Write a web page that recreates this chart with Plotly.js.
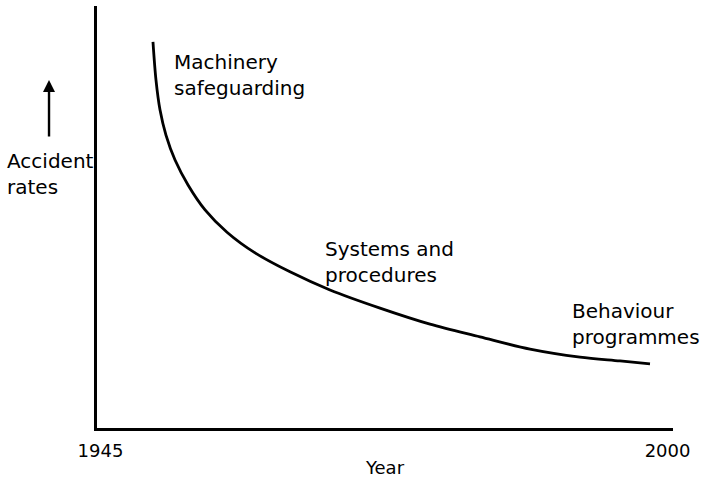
<!DOCTYPE html>
<html><head><meta charset="UTF-8"><title>Accident rates over time</title>
<script src="https://cdn.plot.ly/plotly-3.0.1.min.js"></script>
<style>
  body, html { margin: 0; padding: 0; background: #ffffff; }
  #chart { width: 703px; height: 478px; }
</style></head><body>
<div id="chart"></div>
<script>
  // curve (year, relative accident rate 0-100)
  const years = [1950.09, 1950.38, 1950.77, 1951.35, 1952.23, 1953.49, 1955.14, 1957.27, 1959.99,
                 1963.38, 1967.26, 1972.11, 1976.96, 1981.81, 1986.66, 1991.51, 1995.39, 1998.30];
  const rates = [91.5, 82.5, 75.4, 69.4, 63.5, 57.6, 51.7, 46.4, 41.5,
                 37.0, 32.7, 28.4, 24.6, 21.6, 18.7, 16.8, 15.9, 15.2];
  const tickYears = [1945, 2000];
  const phaseLabels = ['Machinery<br>safeguarding', 'Systems and<br>procedures', 'Behaviour<br>programmes'];

  const font = 'DejaVu Sans, Arial, sans-serif';

  const trace = {
    x: years,
    y: rates,
    mode: 'lines',
    type: 'scatter',
    line: { color: '#000000', width: 2.8, shape: 'spline', smoothing: 0.9 },
    hoverinfo: 'skip'
  };

  const annotations = [
    { xref: 'paper', yref: 'paper', x: 0.1302, y: 0.9, xanchor: 'left', yanchor: 'top',
      text: phaseLabels[0], align: 'left', showarrow: false },
    { xref: 'paper', yref: 'paper', x: 0.3924, y: 0.457, xanchor: 'left', yanchor: 'top',
      text: phaseLabels[1], align: 'left', showarrow: false },
    { xref: 'paper', yref: 'paper', x: 0.8212, y: 0.31, xanchor: 'left', yanchor: 'top',
      text: phaseLabels[2], align: 'left', showarrow: false },
    { xref: 'paper', yref: 'paper', x: -0.1597, y: 0.666, xanchor: 'left', yanchor: 'top',
      text: 'Accident<br>rates', align: 'left', showarrow: false },
    // upward arrow beside the y label
    { xref: 'paper', yref: 'paper', x: -0.0833, y: 0.8246, text: '', showarrow: true,
      ax: 0, ay: 58, arrowhead: 2, arrowsize: 1, arrowwidth: 2.4, arrowcolor: '#000000' }
  ];

  const layout = {
    width: 703,
    height: 478,
    margin: { l: 97, r: 30, t: 6, b: 50 },
    paper_bgcolor: '#ffffff',
    plot_bgcolor: '#ffffff',
    showlegend: false,
    font: { family: font, size: 20, color: '#000000' },
    xaxis: {
      range: [1944.66, 2000.53],
      showgrid: false, zeroline: false,
      showline: true, linecolor: '#000000', linewidth: 3,
      tickvals: tickYears, ticks: '', ticklabelstandoff: 4,
      tickfont: { family: font, size: 18, color: '#000000' },
      title: { text: 'Year', font: { family: font, size: 18, color: '#000000' }, standoff: 2 }
    },
    yaxis: {
      range: [0, 100],
      showgrid: false, zeroline: false,
      showline: true, linecolor: '#000000', linewidth: 3,
      showticklabels: false, ticks: ''
    },
    annotations: annotations
  };

  Plotly.newPlot('chart', [trace], layout, { displayModeBar: false, staticPlot: true });
</script>
</body></html>
